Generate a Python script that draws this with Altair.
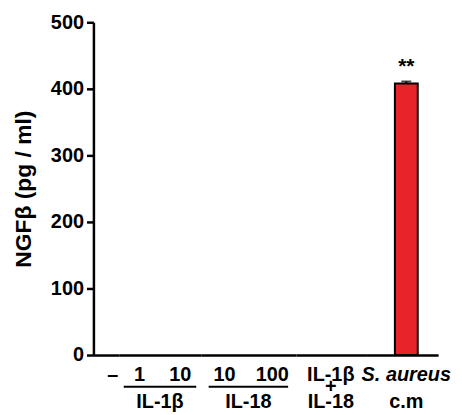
import altair as alt
import pandas as pd

# ---- data ----
categories = ["control", "IL-1β 1", "IL-1β 10", "IL-18 10", "IL-18 100", "IL-1β + IL-18", "S. aureus c.m"]
values = [0, 0, 0, 0, 0, 0, 408]
errors = [0, 0, 0, 0, 0, 0, 3]
significance = ["", "", "", "", "", "", "**"]
top_labels = ["–", "1", "10", "10", "100", "IL-1β", "S. aureus"]
mid_labels = ["", "", "", "", "", "+", ""]
bottom_labels = ["", "", "", "", "", "IL-18", "c.m"]
italic_top = [False, False, False, False, False, False, True]
group_names = ["IL-1β", "IL-18"]
group_first = ["IL-1β 1", "IL-18 10"]
group_last = ["IL-1β 10", "IL-18 100"]
panels = [["control"], ["IL-1β 1", "IL-1β 10"], ["IL-18 10", "IL-18 100"],
          ["IL-1β + IL-18"], ["S. aureus c.m"]]
y_ticks = [0, 100, 200, 300, 400, 500]

df = pd.DataFrame({
    "category": categories,
    "value": values,
    "error": errors,
    "upper": [v + e for v, e in zip(values, errors)],
    "sig": significance,
    "top": top_labels,
    "mid": mid_labels,
    "bottom": bottom_labels,
    "italic": italic_top,
})
groups = pd.DataFrame({"name": group_names, "first": group_first, "last": group_last})

# ---- layout / style ----
FONT = "Liberation Sans"
H = 335
panel_widths = [26, 82, 96, 70, 73]
panel_scales = [
    dict(paddingInner=0.5, paddingOuter=0.25, align=1),
    dict(paddingInner=0.5, paddingOuter=0.25),
    dict(paddingInner=0.5, paddingOuter=0.25),
    dict(paddingInner=0.5, paddingOuter=0.25),
    dict(paddingInner=0.08, paddingOuter=1, align=0.59),
]
ROW1, ROW_MID, ROW2 = 355, 367, 382
txt = dict(font=FONT, fontSize=20, fontWeight="bold", color="black", baseline="middle")

y_axis = alt.Axis(values=y_ticks, title="NGFβ (pg / ml)",
                  labelFont=FONT, labelFontSize=20, labelFontWeight="bold",
                  labelColor="black", labelPadding=3,
                  tickColor="black", tickWidth=2.5, tickSize=7,
                  domainColor="black", domainWidth=2.5,
                  titleFont=FONT, titleFontSize=23, titleFontWeight="bold",
                  titleColor="black", titlePadding=15)


def make_panel(i, cats, width):
    sub = df[df["category"].isin(cats)]
    xs = alt.Scale(domain=cats, **panel_scales[i])
    x = alt.X("category:N", sort=cats, scale=xs,
              axis=alt.Axis(labels=False, ticks=False, title=None,
                            domainColor="black", domainWidth=2.5))
    y = alt.Y("value:Q", scale=alt.Scale(domain=[0, 500], nice=False),
              axis=y_axis if i == 0 else None)
    base = alt.Chart(sub)
    layers = [
        base.mark_bar(color="#e8232a", stroke="black", strokeWidth=2)
            .encode(x=x, y=y).transform_filter(alt.datum.value > 0),
        base.mark_rule(color="black", strokeWidth=2)
            .encode(x=x, y="value:Q", y2="upper:Q").transform_filter(alt.datum.error > 0),
        base.mark_tick(color="black", thickness=2, size=10)
            .encode(x=x, y="upper:Q").transform_filter(alt.datum.error > 0),
        base.mark_text(font=FONT, fontSize=21, fontWeight="bold", color="black",
                       baseline="middle", dy=-15)
            .encode(x=x, y="upper:Q", text="sig:N"),
        base.mark_text(**txt).encode(x=x, y=alt.value(ROW1), text="top:N")
            .transform_filter(~alt.datum.italic),
        base.mark_text(fontStyle="italic", **txt).encode(x=x, y=alt.value(ROW1), text="top:N")
            .transform_filter(alt.datum.italic),
        base.mark_text(**txt).encode(x=x, y=alt.value(ROW_MID), text="mid:N"),
        base.mark_text(**txt).encode(x=x, y=alt.value(ROW2), text="bottom:N"),
    ]
    gsub = groups[groups["first"].isin(cats)]
    if len(gsub):
        gb = alt.Chart(gsub)
        gx = alt.X("first:N", sort=cats, scale=xs)
        layers.append(gb.mark_rule(color="black", strokeWidth=2, xOffset=-16, x2Offset=16)
                      .encode(x=gx, x2="last:N", y=alt.value(ROW_MID)))
        layers.append(gb.mark_text(xOffset=width / 4, **txt)
                      .encode(x=gx, y=alt.value(ROW2), text="name:N"))
    return alt.layer(*layers).properties(width=width, height=H)


chart = alt.hconcat(
    *[make_panel(i, cats, w) for i, (cats, w) in enumerate(zip(panels, panel_widths))],
    spacing=0, bounds="flush"
).properties(
    padding={"left": 4, "top": 3, "right": 2, "bottom": 2},
).configure_view(stroke=None).configure_axis(grid=False)

chart.save("out.html", embed_options={"renderer": "svg", "actions": False})
